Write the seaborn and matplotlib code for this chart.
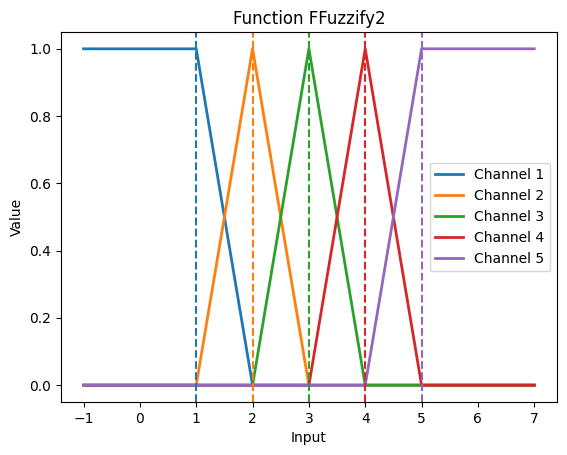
import matplotlib
matplotlib.use("Agg")
import matplotlib.pyplot as plt
import pandas as pd
import seaborn as sns

# breakpoints of the piecewise-linear membership functions
inputs = [-1, 1, 2, 3, 4, 5, 7]
channel_1 = [1, 1, 0, 0, 0, 0, 0]
channel_2 = [0, 0, 1, 0, 0, 0, 0]
channel_3 = [0, 0, 0, 1, 0, 0, 0]
channel_4 = [0, 0, 0, 0, 1, 0, 0]
channel_5 = [0, 0, 0, 0, 0, 1, 1]
centers = [1, 2, 3, 4, 5]
labels = ["Channel 1", "Channel 2", "Channel 3", "Channel 4", "Channel 5"]

series = [channel_1, channel_2, channel_3, channel_4, channel_5]
df = pd.concat(
    [pd.DataFrame({"Input": inputs, "Value": vals, "channel": lab}) for vals, lab in zip(series, labels)],
    ignore_index=True,
)

colors = sns.color_palette("tab10", 5)

fig = plt.figure(figsize=(5.67, 4.55), dpi=100)
ax = fig.add_axes([0.1076, 0.1165, 0.8744, 0.8132])

for lab, color in zip(labels, colors):
    sub = df[df["channel"] == lab]
    sns.lineplot(data=sub, x="Input", y="Value", color=color, linewidth=2, label=lab, ax=ax)

for c, color in zip(centers, colors):
    ax.axvline(c, color=color, linestyle="--", linewidth=1.5)

ax.set_title("Function FFuzzify2")
ax.set_xlabel("Input")
ax.set_ylabel("Value")
ax.legend(loc="center right")

fig.savefig("out.png", dpi=100)
